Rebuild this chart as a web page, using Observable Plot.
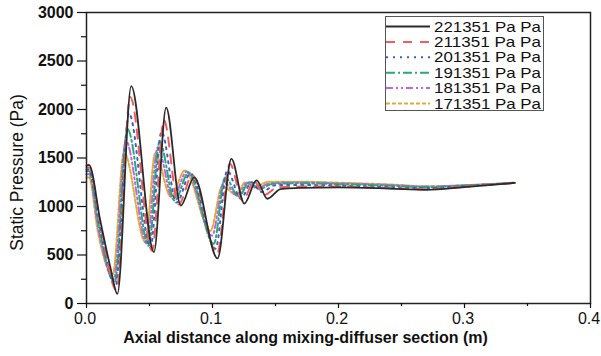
<!DOCTYPE html>
<html>
<head>
<meta charset="utf-8">
<script src="https://cdn.jsdelivr.net/npm/d3@7"></script>
<script src="https://cdn.jsdelivr.net/npm/@observablehq/plot@0.6"></script>
<style>
  body { margin: 0; background: #fff; }
  #wrap { position: relative; width: 601px; height: 356px; font-family: "Liberation Sans", Arial, sans-serif; }
  #legend { position: absolute; left: 385px; top: 16px; }
  #wrap g[aria-label="y-axis tick label"] { font-size: 16px; font-weight: bold; }
  #wrap g[aria-label="x-axis tick label"] { font-size: 16px; }
</style>
</head>
<body>
<div id="wrap"></div>
<script>
const seriesNames = ["221351 Pa Pa", "211351 Pa Pa", "201351 Pa Pa", "191351 Pa Pa", "181351 Pa Pa", "171351 Pa Pa"];
const seriesColors = ["#2b2b2b", "#f25c5c", "#3d5fc8", "#2aa876", "#bf66e0", "#dcae35"];
const seriesDash = ["none", "9,8", "2,5", "9,3,2,3", "7,3,2,3,2,3", "4,2"];
const seriesWidth = [1.8, 2, 2, 2, 2, 2];

const x221 = [0, 0.002, 0.011, 0.019, 0.0245, 0.0355, 0.0535, 0.0632, 0.0748, 0.0855, 0.104, 0.115, 0.1252, 0.135, 0.1435, 0.154, 0.17, 0.2, 0.24, 0.27, 0.3, 0.34];
const y221 = [1420, 1430, 850, 370, 100, 2240, 530, 2020, 1010, 1300, 465, 1490, 1030, 1270, 1080, 1180, 1192, 1197, 1185, 1172, 1200, 1243];

const x211 = [0, 0.002, 0.011, 0.0238, 0.0347, 0.052, 0.0614, 0.073, 0.084, 0.1037, 0.1138, 0.124, 0.133, 0.141, 0.152, 0.17, 0.2, 0.24, 0.27, 0.3, 0.34];
const y211 = [1400, 1405, 820, 140, 2130, 545, 1890, 1020, 1320, 513, 1440, 1060, 1260, 1120, 1200, 1205, 1205, 1190, 1180, 1205, 1243];

const x201 = [0, 0.002, 0.0105, 0.0231, 0.0337, 0.0508, 0.0595, 0.0715, 0.0825, 0.1024, 0.1117, 0.1225, 0.131, 0.139, 0.150, 0.17, 0.2, 0.24, 0.27, 0.3, 0.34];
const y201 = [1380, 1385, 800, 180, 1960, 578, 1770, 1040, 1340, 565, 1370, 1080, 1250, 1150, 1220, 1222, 1215, 1200, 1190, 1210, 1244];

const x191 = [0, 0.002, 0.010, 0.0224, 0.0325, 0.0494, 0.058, 0.070, 0.081, 0.101, 0.110, 0.121, 0.129, 0.137, 0.148, 0.17, 0.2, 0.24, 0.27, 0.3, 0.34];
const y191 = [1360, 1365, 780, 220, 1800, 595, 1670, 1060, 1350, 615, 1300, 1100, 1250, 1180, 1235, 1240, 1230, 1215, 1200, 1215, 1245];

const x181 = [0, 0.002, 0.0095, 0.0217, 0.0312, 0.048, 0.0565, 0.0685, 0.0795, 0.0997, 0.109, 0.120, 0.127, 0.135, 0.146, 0.17, 0.2, 0.24, 0.27, 0.3, 0.34];
const y181 = [1330, 1335, 760, 250, 1680, 613, 1610, 1080, 1360, 700, 1250, 1110, 1240, 1190, 1240, 1248, 1238, 1222, 1205, 1218, 1245];

const x171 = [0, 0.002, 0.009, 0.0208, 0.0298, 0.0468, 0.0545, 0.067, 0.078, 0.0984, 0.1077, 0.119, 0.126, 0.134, 0.145, 0.17, 0.2, 0.24, 0.27, 0.3, 0.34];
const y171 = [1300, 1300, 740, 300, 1560, 630, 1550, 1100, 1370, 750, 1210, 1120, 1250, 1210, 1255, 1256, 1245, 1228, 1208, 1220, 1246];

const xTicks = [0, 0.1, 0.2, 0.3, 0.4];
const xMinorTicks = [0.05, 0.15, 0.25, 0.35];
const yTicks = [0, 500, 1000, 1500, 2000, 2500, 3000];
const yMinorTicks = [250, 750, 1250, 1750, 2250, 2750];
const xTitle = "Axial distance along mixing-diffuser section (m)";
const yTitle = "Static Pressure (Pa)";

const allX = [x221, x211, x201, x191, x181, x171];
const allY = [y221, y211, y201, y191, y181, y171];
const series = allX.map((xs, i) => xs.map((x, j) => ({x, y: allY[i][j], s: seriesNames[i]})));

const lineMarks = series.map((d, i) => Plot.line(d, {
  x: "x", y: "y", curve: "monotone-x",
  stroke: seriesColors[i], strokeWidth: seriesWidth[i],
  strokeDasharray: seriesDash[i] === "none" ? null : seriesDash[i]
}));

const chart = Plot.plot({
  width: 601, height: 356,
  marginLeft: 86, marginRight: 11, marginTop: 12, marginBottom: 53,
  style: {fontFamily: "'Liberation Sans', Arial, sans-serif", color: "#111", background: "#fff"},
  x: {domain: [0, 0.4]},
  y: {domain: [0, 3000]},
  marks: [
    ...lineMarks.slice().reverse(),
    Plot.frame({stroke: "#222", strokeWidth: 1.5}),
    Plot.axisY({ticks: yTicks, tickSize: 9, tickPadding: 4, tickFormat: d3.format("d"), label: null, strokeWidth: 1.2}),
    Plot.axisY({ticks: yMinorTicks, tickSize: 5, tickFormat: () => "", label: null, strokeWidth: 1.2}),
    Plot.axisX({ticks: xTicks, tickSize: 5, tickFormat: () => "", label: null, strokeWidth: 1.2}),
    Plot.axisX({ticks: xTicks, tickSize: 0, tickPadding: 9, dx: -1.5, tickFormat: d3.format(".1f"), label: null}),
    Plot.axisX({ticks: xMinorTicks, tickSize: 3, tickFormat: () => "", label: null, strokeWidth: 1.2}),
    Plot.text([xTitle], {text: d => d, frameAnchor: "bottom", dx: -33, dy: 34, fontSize: 16, fontWeight: "bold", lineAnchor: "middle", textAnchor: "middle"}),
    Plot.text([yTitle], {text: d => d, frameAnchor: "left", dx: -69.5, dy: 14.5, rotate: -90, fontSize: 17.5, lineAnchor: "middle", textAnchor: "middle"})
  ]
});

const wrap = document.getElementById("wrap");
wrap.appendChild(chart);

// legend
const lw = 159, lh = 95;
const leg = d3.select(wrap).append("svg").attr("id", "legend").attr("width", lw).attr("height", lh);
leg.append("rect").attr("x", 0.5).attr("y", 0.5).attr("width", lw - 1).attr("height", lh - 1)
  .attr("fill", "#fff").attr("stroke", "#555").attr("stroke-width", 1);
seriesNames.forEach((name, i) => {
  const cy = 10.5 + i * 15.4;
  leg.append("line").attr("x1", 1).attr("x2", 45).attr("y1", cy).attr("y2", cy)
    .attr("stroke", seriesColors[i]).attr("stroke-width", seriesWidth[i])
    .attr("stroke-dasharray", seriesDash[i] === "none" ? null : seriesDash[i]);
  leg.append("text").attr("x", 49).attr("y", cy).attr("dy", "0.35em")
    .attr("font-size", 14.5).attr("fill", "#111")
    .attr("textLength", 107).attr("lengthAdjust", "spacingAndGlyphs")
    .attr("font-family", "'Liberation Sans', Arial, sans-serif").text(name);
});
</script>
</body>
</html>
